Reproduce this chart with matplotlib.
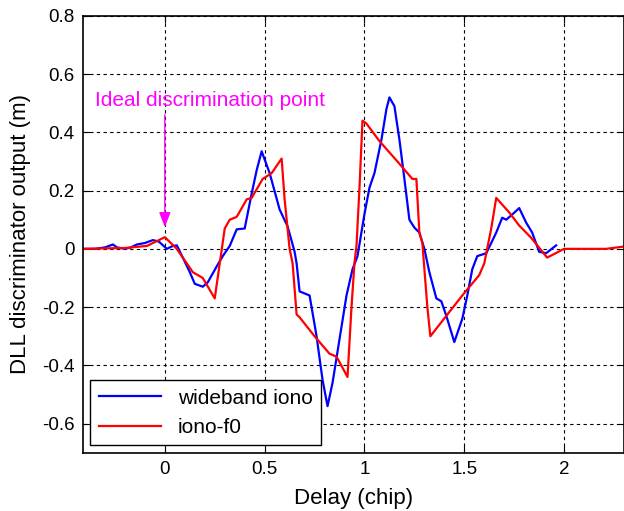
import matplotlib
matplotlib.use("Agg")
import matplotlib.pyplot as plt

plt.rcParams["font.family"] = ["Liberation Sans", "DejaVu Sans"]
plt.rcParams["axes.unicode_minus"] = False

# wideband iono (blue)
wide_x = [-0.41, -0.35, -0.30, -0.26, -0.24, -0.20, -0.17, -0.14, -0.10, -0.06, -0.03, 0.01,
          0.04, 0.06, 0.09, 0.125, 0.15, 0.19, 0.215, 0.26, 0.29, 0.325, 0.36, 0.40, 0.435,
          0.46, 0.485, 0.525, 0.575, 0.615, 0.65, 0.66, 0.675, 0.725, 0.76, 0.79, 0.815,
          0.84, 0.875, 0.91, 0.94, 0.965, 1.0, 1.025, 1.05, 1.085, 1.11, 1.125, 1.15, 1.175,
          1.2, 1.225, 1.25, 1.275, 1.30, 1.325, 1.36, 1.385, 1.41, 1.45, 1.49, 1.515, 1.54,
          1.565, 1.61, 1.635, 1.66, 1.69, 1.71, 1.75, 1.775, 1.81, 1.84, 1.875, 1.91, 1.96]
wide_y = [0.0, 0.0, 0.005, 0.015, 0.005, 0.0, 0.005, 0.015, 0.02, 0.03, 0.025, 0.0,
          0.01, 0.012, -0.03, -0.08, -0.12, -0.13, -0.115, -0.06, -0.025, 0.01, 0.067, 0.07, 0.19,
          0.27, 0.335, 0.26, 0.135, 0.077, -0.01, -0.05, -0.146, -0.16, -0.30, -0.45, -0.54,
          -0.46, -0.31, -0.16, -0.07, -0.025, 0.12, 0.21, 0.26, 0.375, 0.48, 0.52, 0.49, 0.375,
          0.24, 0.10, 0.073, 0.056, 0.0, -0.08, -0.17, -0.18, -0.23, -0.32, -0.24, -0.16, -0.07,
          -0.025, -0.015, 0.02, 0.056, 0.107, 0.10, 0.124, 0.14, 0.09, 0.056, -0.01, -0.015, 0.012]

# iono-f0 (red)
f0_x = [-0.41, -0.20, -0.09, 0.0, 0.06, 0.09, 0.14, 0.19, 0.25, 0.275, 0.30, 0.325, 0.36,
        0.41, 0.435, 0.49, 0.535, 0.585, 0.60, 0.625, 0.64, 0.66, 0.675, 0.75, 0.825, 0.86,
        0.915, 0.935, 0.95, 0.96, 0.975, 0.99, 1.01, 1.075, 1.165, 1.24, 1.26, 1.275, 1.29,
        1.315, 1.33, 1.41, 1.49, 1.575, 1.60, 1.635, 1.66, 1.725, 1.775, 1.835, 1.915, 2.0,
        2.21, 2.3]
f0_y = [0.0, 0.003, 0.01, 0.04, 0.0, -0.03, -0.08, -0.10, -0.17, -0.05, 0.07, 0.10, 0.11,
        0.17, 0.175, 0.24, 0.26, 0.31, 0.17, 0.0, -0.05, -0.225, -0.235, -0.30, -0.36, -0.37,
        -0.44, -0.20, -0.047, 0.01, 0.21, 0.44, 0.43, 0.37, 0.30, 0.24, 0.24, 0.055, 0.02,
        -0.20, -0.30, -0.23, -0.16, -0.09, -0.05, 0.07, 0.175, 0.125, 0.08, 0.038, -0.03, 0.0,
        0.0, 0.008]

x_ticks = [0, 0.5, 1, 1.5, 2]
x_labels = ["0", "0.5", "1", "1.5", "2"]
y_ticks = [-0.6, -0.4, -0.2, 0, 0.2, 0.4, 0.6, 0.8]
y_labels = ["-0.6", "-0.4", "-0.2", "0", "0.2", "0.4", "0.6", "0.8"]

fig = plt.figure(figsize=(6.24, 5.11), dpi=100)
ax = fig.add_axes([0.133, 0.114, 0.867, 0.855])

ax.plot(wide_x, wide_y, color="#0000ff", lw=1.6, label="wideband iono")
ax.plot(f0_x, f0_y, color="#ff0000", lw=1.6, label="iono-f0")

ax.set_xlim(-0.41, 2.3)
ax.set_ylim(-0.7, 0.8)
ax.set_xticks(x_ticks)
ax.set_xticklabels(x_labels)
ax.set_yticks(y_ticks)
ax.set_yticklabels(y_labels)
ax.tick_params(direction="in", labelsize=13.5, top=True, right=True, length=5, width=0.8, pad=6)
ax.grid(True, color="black", linestyle=(0, (3, 3)), linewidth=0.8)
for spine in ax.spines.values():
    spine.set_linewidth(1.2)

ax.set_xlabel("Delay (chip)", fontsize=16, labelpad=7)
ax.set_ylabel("DLL discriminator output (m)", fontsize=16, labelpad=8)

# annotation arrow for ideal point
ax.annotate(
    "",
    xy=(0, 0.065),
    xytext=(0, 0.47),
    arrowprops=dict(arrowstyle="-|>,head_length=0.9,head_width=0.35", color="#ff00ff", lw=1.0),
)
ax.text(-0.35, 0.51, "Ideal discrimination point", color="#ff00ff", fontsize=15, va="center", ha="left")

leg = ax.legend(loc="lower left", fontsize=15, fancybox=False, edgecolor="black",
                framealpha=1, borderaxespad=0.35, handlelength=3.0)
leg.get_frame().set_linewidth(1.0)

fig.savefig("out.png", dpi=100)
